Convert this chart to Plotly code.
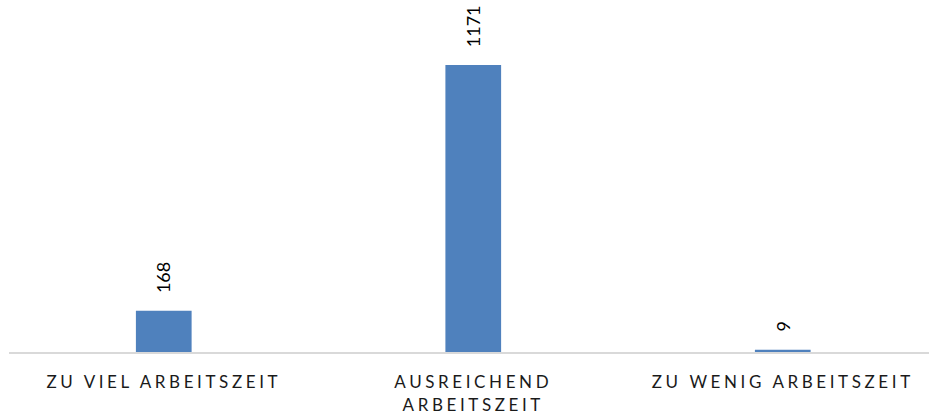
import plotly.graph_objects as go

categories = ["ZU VIEL ARBEITSZEIT", "AUSREICHEND<br>ARBEITSZEIT", "ZU WENIG ARBEITSZEIT"]
values = [168, 1171, 9]

BAR_COLOR = "#4f81bd"
FONT = "Lato"

fig = go.Figure()
fig.add_trace(go.Bar(
    x=categories,
    y=values,
    width=0.18,
    marker=dict(color=BAR_COLOR, line=dict(width=0)),
    hoverinfo="skip",
))

for c, v in zip(categories, values):
    fig.add_annotation(
        x=c, y=v, text=str(v), textangle=-90,
        showarrow=False, xanchor="center", yanchor="bottom", yshift=16,
        font=dict(family=FONT, size=18, color="#000000"),
    )

fig.update_layout(
    width=929, height=419,
    margin=dict(l=9, r=0, t=0, b=67, autoexpand=False),
    paper_bgcolor="white", plot_bgcolor="white",
    showlegend=False,
    xaxis=dict(
        range=[-0.5, 2.4725],
        automargin=False,
        showline=True, linecolor="#d9d9d9", linewidth=2,
        showgrid=False, zeroline=False, ticks="",
        tickfont=dict(family=FONT, size=17, color="#1a1a1a"),
        ticklabelstandoff=14,
    ),
    yaxis=dict(range=[0, 1436], visible=False, showgrid=False, zeroline=False, automargin=False),
)

post = """
document.body.style.margin = '0';
document.body.style.overflow = 'hidden';
var gd = document.getElementById('{plot_id}');
function ls(){
  gd.querySelectorAll('.xtick text').forEach(function(t){ t.style.letterSpacing = '3.6px'; });
}
ls();
gd.on('plotly_afterplot', ls);
"""
fig.write_html("out.html", post_script=post, config={"displayModeBar": False})
